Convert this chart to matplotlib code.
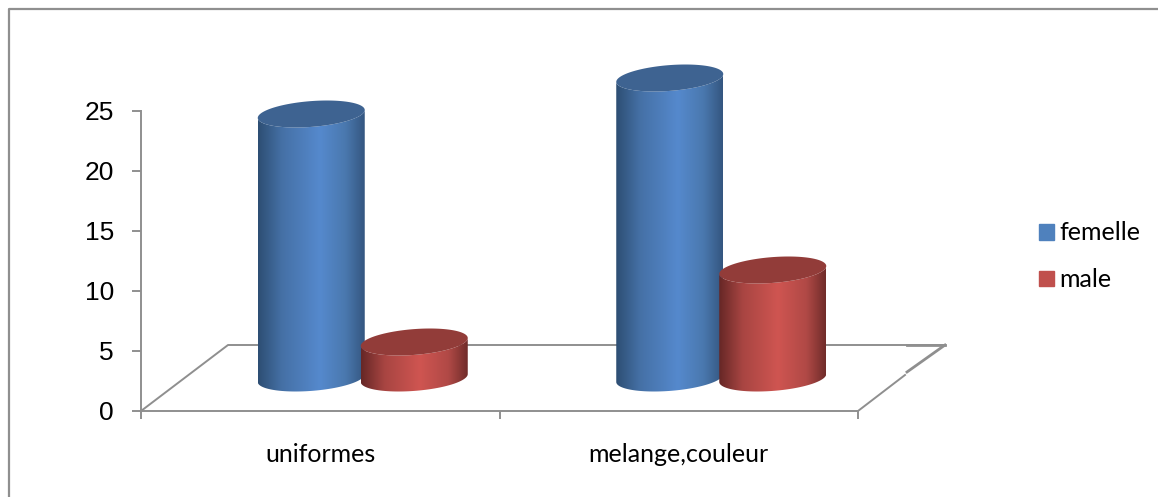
import numpy as np
import matplotlib
matplotlib.use("Agg")
import matplotlib.pyplot as plt
from matplotlib.colors import LinearSegmentedColormap
from matplotlib.lines import Line2D
from matplotlib.patches import Patch, Polygon

categories = ["uniformes", "melange,couleur"]
series_names = ["femelle", "male"]
femelle = [22, 25]
male = [3, 9]
y_ticks = [0, 5, 10, 15, 20, 25]

GREY = "#8f8f8f"
W, H = 1158, 497

# pixel box of the front/left axes: everything else is derived from it
fig = plt.figure(figsize=(W / 100, H / 100), dpi=100)
ax = fig.add_axes([141 / W, (H - 411) / H, 717 / W, 300 / H])
ax.patch.set_alpha(0)
ax.set_xlim(0, 2)
ax.set_ylim(0, 25)

px_x = 2 / 717  # data units per pixel
px_y = 25 / 300

# oblique depth of the floor
depth_x = 87 * px_x
depth_y = 66 * px_y

# chart border, only left and top are inside the image
fig.add_artist(Line2D([9 / W, 9 / W, 1], [0, 1 - 9 / H, 1 - 9 / H],
                      transform=fig.transFigure, color=GREY, lw=1.6))

# floor
ax.plot([0, depth_x, 2 + depth_x], [0, depth_y, depth_y], color=GREY, lw=1.4,
        clip_on=False, zorder=1)
ax.plot([2, 2 + 47 * px_x], [0, 36 * px_y], color=GREY, lw=1.4, clip_on=False, zorder=1)
ax.plot([2 + 49 * px_x, 2 + depth_x], [39 * px_y, depth_y], color=GREY, lw=2,
        clip_on=False, zorder=1)
ax.plot([2 + 49 * px_x, 2 + depth_x], [depth_y, depth_y], color=GREY, lw=2,
        clip_on=False, zorder=1)

blue_map = LinearSegmentedColormap.from_list(
    "b", [(0, "#2d4e73"), (0.22, "#4570a5"), (0.58, "#5589cd"), (0.82, "#4a78ae"), (1, "#345680")])
red_map = LinearSegmentedColormap.from_list(
    "r", [(0, "#662726"), (0.22, "#a84542"), (0.55, "#cf5551"), (0.82, "#b04946"), (1, "#702c2a")])
grad = np.linspace(0, 1, 256).reshape(1, -1)

half_w = 53.5 * px_x
half_h = 13.5 * px_y
tilt = np.radians(17)
t = np.linspace(0, 2 * np.pi, 181)
t_low = np.linspace(np.pi, 2 * np.pi, 91)


def ellipse(cx, cy, angles):
    return np.column_stack([cx + half_w * np.cos(angles),
                            cy + half_h * np.sin(angles + tilt)])


def cylinder(cx, value, cmap, top_color, z):
    base = depth_y / 2
    top = base + value
    body = np.vstack([ellipse(cx, top, t_low), ellipse(cx, base, t_low[::-1])])
    clip = Polygon(body, closed=True, transform=ax.transData, fc="none", ec="none")
    clip.set_clip_on(False)
    ax.add_patch(clip)
    im = ax.imshow(grad, cmap=cmap, aspect="auto", zorder=z, interpolation="bilinear",
                   extent=(cx - half_w, cx + half_w, base - 2, top + 2))
    im.set_clip_box(fig.bbox)
    im.set_clip_path(clip)
    ax.fill(*ellipse(cx, top, t).T, color=top_color, lw=0, zorder=z + 0.1, clip_on=False)


offset = 51.5 * px_x
for i in range(len(categories)):
    centre = i + 0.5 + depth_x / 2 - 1 * px_x
    cylinder(centre - offset, femelle[i], blue_map, "#3e6391", 3 + i)
    cylinder(centre + offset, male[i], red_map, "#923c39", 3.5 + i)

ax.set_xlim(0, 2)
ax.set_ylim(0, 25)

for side in ["top", "right"]:
    ax.spines[side].set_visible(False)
for side in ["left", "bottom"]:
    ax.spines[side].set_color(GREY)
    ax.spines[side].set_linewidth(1.4)

ax.set_yticks(y_ticks)
ax.tick_params(axis="y", length=6.5, width=1.4, color=GREY, pad=13, labelsize=19)
for lab in ax.get_yticklabels():
    lab.set_fontfamily("Liberation Sans")
ax.set_xticks([0.5, 1.5], labels=categories, fontfamily="Lato", fontsize=18)
ax.set_xticks([0, 1, 2], minor=True)
ax.tick_params(axis="x", which="major", length=0, pad=22.7)
ax.tick_params(axis="x", which="minor", length=5.5, width=1.4, color=GREY)

handles = [Patch(color="#4f81bd", label=series_names[0]),
           Patch(color="#c0504d", label=series_names[1])]
fig.legend(handles=handles, loc="upper left", bbox_to_anchor=(1039 / W, 1 - 221.5 / H),
           frameon=False, borderpad=0, borderaxespad=0, handlelength=0.6, handleheight=0.6,
           handletextpad=0.22, labelspacing=0.95,
           prop={"family": "Lato", "size": 18})

fig.savefig("out.png", dpi=100)
